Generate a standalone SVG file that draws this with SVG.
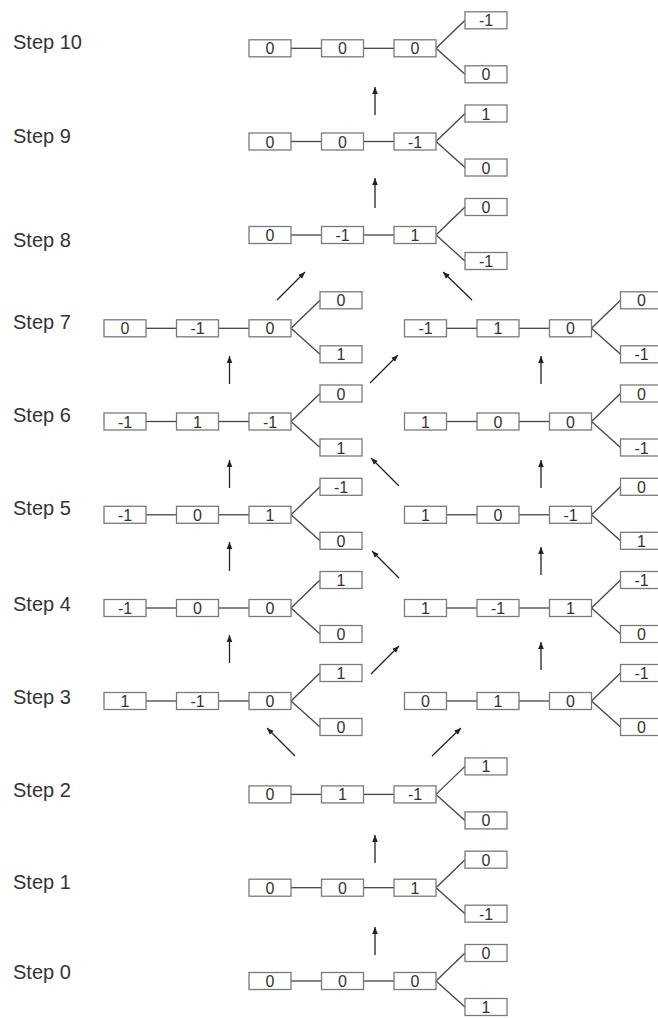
<svg xmlns="http://www.w3.org/2000/svg" width="658" height="1018" viewBox="0 0 658 1018">
<style>
.bg{fill:#fff}
.lbl{font-family:"Liberation Sans",Arial,sans-serif;font-size:20px;fill:#333}
.bx{fill:#fff;stroke:#7a7a7a;stroke-width:1.3}
.ln{stroke:#444;stroke-width:1.3;fill:none}
.b text{font-family:"Liberation Sans",Arial,sans-serif;font-size:16px;fill:#333;text-anchor:middle}
.arr line{stroke:#222;stroke-width:1.3;marker-end:url(#ah)}
</style>
<defs>
<marker id="ah" viewBox="0 0 10 10" refX="10" refY="5" markerWidth="7" markerHeight="7" markerUnits="userSpaceOnUse" orient="auto">
<path d="M0,1 L10,5 L0,9 z" fill="#222"/>
</marker>
<g id="tpl">
<line class="ln" x1="42" y1="0" x2="72.5" y2="0"/><line class="ln" x1="114.5" y1="0" x2="145" y2="0"/>
<line class="ln" x1="187" y1="0" x2="216" y2="-28"/><line class="ln" x1="187" y1="0" x2="216" y2="26"/>
<rect class="bx" x="0" y="-8.5" width="42" height="17"/><rect class="bx" x="72.5" y="-8.5" width="42" height="17"/><rect class="bx" x="145" y="-8.5" width="42" height="17"/>
<rect class="bx" x="216" y="-36.5" width="42" height="17"/><rect class="bx" x="216" y="17.5" width="42" height="17"/>
</g>
</defs>
<rect class="bg" width="658" height="1018"/>
<g id="labels">
<text class="lbl" x="13" y="49">Step 10</text>
<text class="lbl" x="13" y="143">Step 9</text>
<text class="lbl" x="13" y="247">Step 8</text>
<text class="lbl" x="13" y="329">Step 7</text>
<text class="lbl" x="13" y="422">Step 6</text>
<text class="lbl" x="13" y="515">Step 5</text>
<text class="lbl" x="13" y="611">Step 4</text>
<text class="lbl" x="13" y="704">Step 3</text>
<text class="lbl" x="13" y="797">Step 2</text>
<text class="lbl" x="13" y="889">Step 1</text>
<text class="lbl" x="13" y="979">Step 0</text>
</g>
<g id="s10" class="b" transform="translate(249,48.3)"><use href="#tpl"/>
<text x="21" y="6">0</text><text x="93.5" y="6">0</text><text x="166" y="6">0</text><text x="237" y="-22">-1</text><text x="237" y="32">0</text></g>
<g id="s9" class="b" transform="translate(249,141.5)"><use href="#tpl"/>
<text x="21" y="6">0</text><text x="93.5" y="6">0</text><text x="166" y="6">-1</text><text x="237" y="-22">1</text><text x="237" y="32">0</text></g>
<g id="s8" class="b" transform="translate(249,235)"><use href="#tpl"/>
<text x="21" y="6">0</text><text x="93.5" y="6">-1</text><text x="166" y="6">1</text><text x="237" y="-22">0</text><text x="237" y="32">-1</text></g>
<g id="s7l" class="b" transform="translate(104,328.3)"><use href="#tpl"/>
<text x="21" y="6">0</text><text x="93.5" y="6">-1</text><text x="166" y="6">0</text><text x="237" y="-22">0</text><text x="237" y="32">1</text></g>
<g id="s7r" class="b" transform="translate(404.5,328.3)"><use href="#tpl"/>
<text x="21" y="6">-1</text><text x="93.5" y="6">1</text><text x="166" y="6">0</text><text x="237" y="-22">0</text><text x="237" y="32">-1</text></g>
<g id="s6l" class="b" transform="translate(104,421.5)"><use href="#tpl"/>
<text x="21" y="6">-1</text><text x="93.5" y="6">1</text><text x="166" y="6">-1</text><text x="237" y="-22">0</text><text x="237" y="32">1</text></g>
<g id="s6r" class="b" transform="translate(404.5,421.5)"><use href="#tpl"/>
<text x="21" y="6">1</text><text x="93.5" y="6">0</text><text x="166" y="6">0</text><text x="237" y="-22">0</text><text x="237" y="32">-1</text></g>
<g id="s5l" class="b" transform="translate(104,514.8)"><use href="#tpl"/>
<text x="21" y="6">-1</text><text x="93.5" y="6">0</text><text x="166" y="6">1</text><text x="237" y="-22">-1</text><text x="237" y="32">0</text></g>
<g id="s5r" class="b" transform="translate(404.5,514.8)"><use href="#tpl"/>
<text x="21" y="6">1</text><text x="93.5" y="6">0</text><text x="166" y="6">-1</text><text x="237" y="-22">0</text><text x="237" y="32">1</text></g>
<g id="s4l" class="b" transform="translate(104,608)"><use href="#tpl"/>
<text x="21" y="6">-1</text><text x="93.5" y="6">0</text><text x="166" y="6">0</text><text x="237" y="-22">1</text><text x="237" y="32">0</text></g>
<g id="s4r" class="b" transform="translate(404.5,608)"><use href="#tpl"/>
<text x="21" y="6">1</text><text x="93.5" y="6">-1</text><text x="166" y="6">1</text><text x="237" y="-22">-1</text><text x="237" y="32">0</text></g>
<g id="s3l" class="b" transform="translate(104,701)"><use href="#tpl"/>
<text x="21" y="6">1</text><text x="93.5" y="6">-1</text><text x="166" y="6">0</text><text x="237" y="-22">1</text><text x="237" y="32">0</text></g>
<g id="s3r" class="b" transform="translate(404.5,701)"><use href="#tpl"/>
<text x="21" y="6">0</text><text x="93.5" y="6">1</text><text x="166" y="6">0</text><text x="237" y="-22">-1</text><text x="237" y="32">0</text></g>
<g id="s2" class="b" transform="translate(249,794.4)"><use href="#tpl"/>
<text x="21" y="6">0</text><text x="93.5" y="6">1</text><text x="166" y="6">-1</text><text x="237" y="-22">1</text><text x="237" y="32">0</text></g>
<g id="s1" class="b" transform="translate(249,887.7)"><use href="#tpl"/>
<text x="21" y="6">0</text><text x="93.5" y="6">0</text><text x="166" y="6">1</text><text x="237" y="-22">0</text><text x="237" y="32">-1</text></g>
<g id="s0" class="b" transform="translate(249,981)"><use href="#tpl"/>
<text x="21" y="6">0</text><text x="93.5" y="6">0</text><text x="166" y="6">0</text><text x="237" y="-22">0</text><text x="237" y="32">1</text></g>
<g id="connectors" class="arr">
<line x1="375" y1="115" x2="375" y2="87"/>
<line x1="375" y1="208" x2="375" y2="178"/>
<line x1="277" y1="300" x2="305" y2="272"/>
<line x1="472" y1="300" x2="443" y2="272"/>
<line x1="229.5" y1="384" x2="229.5" y2="356"/>
<line x1="541" y1="384" x2="541" y2="356"/>
<line x1="370" y1="383" x2="398" y2="355"/>
<line x1="229.5" y1="488" x2="229.5" y2="460"/>
<line x1="541" y1="488" x2="541" y2="460"/>
<line x1="399" y1="486" x2="371" y2="458"/>
<line x1="229.5" y1="571" x2="229.5" y2="542"/>
<line x1="541" y1="575" x2="541" y2="547"/>
<line x1="399" y1="578" x2="372" y2="551"/>
<line x1="229.5" y1="663" x2="229.5" y2="635"/>
<line x1="541" y1="670" x2="541" y2="642"/>
<line x1="371" y1="674" x2="399" y2="646"/>
<line x1="295" y1="756" x2="267" y2="728"/>
<line x1="432" y1="756" x2="461" y2="728"/>
<line x1="375" y1="863" x2="375" y2="835"/>
<line x1="375" y1="955" x2="375" y2="927"/>
</g>
</svg>
